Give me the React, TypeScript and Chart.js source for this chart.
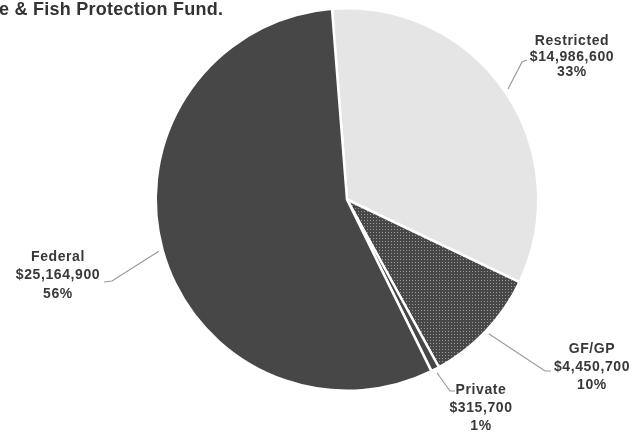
import React, { useEffect, useRef } from 'react';
import { Chart, registerables } from 'chart.js';

Chart.register(...registerables);

const categories = ['Restricted', 'GF/GP', 'Private', 'Federal'];
const amounts = [14986600, 4450700, 315700, 25164900];
const titleText = 'e & Fish Protection Fund.';

// label layout (text block centre x, first line centre y, line gap)
const labelX = [572, 592, 481, 58];
const labelY = [41, 349, 390, 257];
const lineGap = [15.7, 18, 18, 18.5];
const leaderElbow = [[522, 62], [545, 371], [450, 391], [112, 281]];
const leaderEnd = [[527, 60], [551, 371], [455, 391], [104, 282]];

function makePattern(): CanvasPattern | string {
  const c = document.createElement('canvas');
  c.width = 3;
  c.height = 3;
  const g = c.getContext('2d');
  if (!g) return '#474747';
  g.fillStyle = '#474747';
  g.fillRect(0, 0, 3, 3);
  g.fillStyle = '#9a9a9a';
  g.fillRect(1, 1, 1, 1);
  const p = g.createPattern(c, 'repeat');
  return p || '#474747';
}

export default function App() {
  const ref = useRef<HTMLCanvasElement | null>(null);

  useEffect(() => {
    if (!ref.current) return;
    const total = amounts.reduce((a, b) => a + b, 0);
    const pattern = makePattern();

    const labelPlugin = {
      id: 'labelPlugin',
      afterDraw(chart: any) {
        const ctx = chart.ctx as CanvasRenderingContext2D;
        const meta = chart.getDatasetMeta(0);
        ctx.save();
        meta.data.forEach((arc: any, i: number) => {
          const p = arc.getProps(['x', 'y', 'startAngle', 'endAngle', 'outerRadius'], true);
          const mid = (p.startAngle + p.endAngle) / 2;
          const r = p.outerRadius + 4;
          const sx = p.x + Math.cos(mid) * r;
          const sy = p.y + Math.sin(mid) * r;
          ctx.strokeStyle = '#9a9a9a';
          ctx.lineWidth = 1.2;
          ctx.beginPath();
          ctx.moveTo(sx, sy);
          ctx.lineTo(leaderElbow[i][0], leaderElbow[i][1]);
          ctx.lineTo(leaderEnd[i][0], leaderEnd[i][1]);
          ctx.stroke();

          const pct = Math.round((amounts[i] / total) * 100) + '%';
          const lines = [categories[i], '$' + amounts[i].toLocaleString('en-US'), pct];
          ctx.fillStyle = '#383838';
          ctx.font = 'bold 14px "Liberation Sans", Arial, sans-serif';
          (ctx as any).letterSpacing = '0.6px';
          ctx.textAlign = 'center';
          ctx.textBaseline = 'middle';
          lines.forEach((t, k) => {
            ctx.fillText(t, labelX[i], labelY[i] + k * lineGap[i]);
          });
        });
        ctx.font = 'bold 18px "Liberation Sans", Arial, sans-serif';
        (ctx as any).letterSpacing = '0.25px';
        ctx.fillStyle = '#333333';
        ctx.textAlign = 'left';
        ctx.textBaseline = 'alphabetic';
        ctx.fillText(titleText, -1, 15);
        ctx.restore();
      },
    };

    const chart = new Chart(ref.current, {
      type: 'pie',
      data: {
        labels: categories,
        datasets: [
          {
            data: amounts,
            backgroundColor: ['#e5e5e5', pattern as any, '#474747', '#474747'],
            borderColor: '#ffffff',
            borderWidth: 2.5,
          },
        ],
      },
      options: {
        responsive: false,
        animation: false,
        rotation: -4.5,
        layout: { padding: { left: 60, right: 0, top: 7, bottom: 42 } },
        plugins: {
          legend: { display: false },
          tooltip: { enabled: false },
          title: { display: false },
        },
      },
      plugins: [labelPlugin],
    });
    return () => chart.destroy();
  }, []);

  return (
    <div style={{ position: 'absolute', left: 0, top: 0, width: 634, height: 434, background: '#fff' }}>
      <canvas ref={ref} width={634} height={434} />
    </div>
  );
}
